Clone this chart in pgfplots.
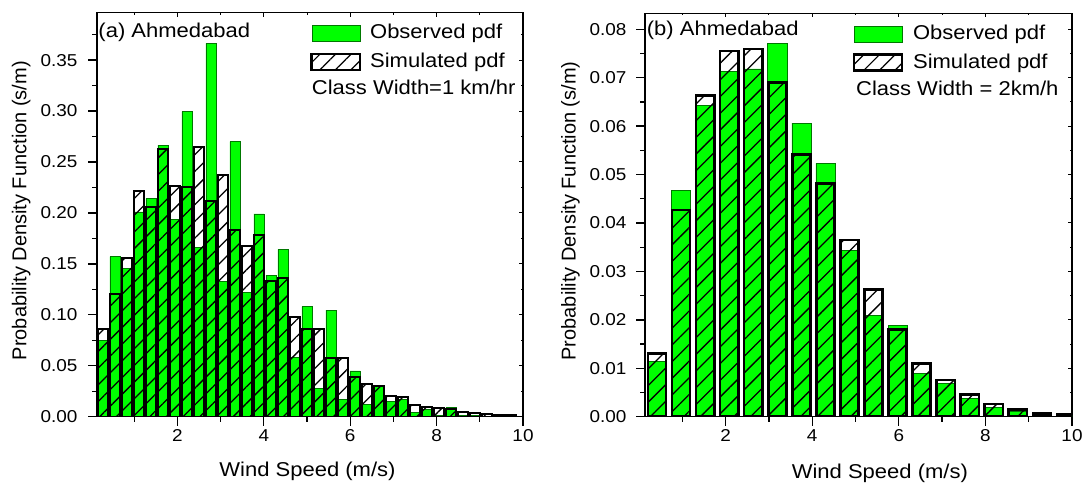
\documentclass[border=0pt]{standalone}
\usepackage{fontspec}
\setmainfont{Liberation Sans}[FakeStretch=1.1]
\newfontfamily\plainfont{Liberation Sans}
\usepackage{pgfplots}
\usepackage{pgfplotstable}
\pgfplotsset{compat=1.18}
\usetikzlibrary{patterns.meta}
\definecolor{obsgreen}{RGB}{0,255,0}
\definecolor{obsedge}{RGB}{0,120,0}
\newcommand\labelfont{\fontsize{20}{24}\selectfont}
\newcommand\tickfont{\fontsize{17.2}{20}\selectfont}

\pgfplotstableread{
x obs sim
0.2778 0.0750 0.0858
0.5556 0.1570 0.1200
0.8333 0.1456 0.1560
1.1111 0.2010 0.2220
1.3889 0.2143 0.2060
1.6667 0.2666 0.2627
1.9444 0.1937 0.2264
2.2222 0.2993 0.2251
2.5000 0.1660 0.2650
2.7778 0.3664 0.2117
3.0556 0.1325 0.2372
3.3333 0.2699 0.1832
3.6111 0.1217 0.1675
3.8889 0.1990 0.1780
4.1667 0.1390 0.1335
4.4444 0.1643 0.1364
4.7222 0.0580 0.0975
5.0000 0.1080 0.0858
5.2778 0.0280 0.0857
5.5556 0.1047 0.0580
5.8333 0.0170 0.0580
6.1111 0.0450 0.0386
6.3889 0.0120 0.0317
6.6667 0.0307 0.0300
6.9444 0.0147 0.0203
7.2222 0.0173 0.0196
7.5000 0.0040 0.0111
7.7778 0.0075 0.0092
8.0556 0.0016 0.0082
8.3333 0.0088 0.0075
8.6111 0.0010 0.0049
8.8889 0.0010 0.0033
9.1667 0.0005 0.0026
9.4444 0.0003 0.0020
9.7222 0.0002 0.0013
}\tableA

\pgfplotstableread{
x obs sim
0.4167 0.0115 0.0131
0.9722 0.0468 0.0427
1.5278 0.0642 0.0663
2.0833 0.0713 0.0755
2.6389 0.0718 0.0759
3.1944 0.0771 0.0690
3.7500 0.0606 0.0542
4.3056 0.0523 0.0481
4.8611 0.0343 0.0365
5.4167 0.0210 0.0263
5.9722 0.0188 0.0180
6.5278 0.0090 0.0110
7.0833 0.0069 0.0076
7.6389 0.0038 0.0046
8.1944 0.0019 0.0026
8.7500 0.0012 0.0015
9.3056 0.0003 0.0007
9.8611 0.0002 0.0004
}\tableB

\pgfplotsset{
  panel/.style={
    scale only axis, anchor=south west,
    xmin=0.139, xmax=10, ymin=0,
    axis line style={line width=1.3pt},
    tick style={line width=1.3pt, black},
    major tick length=9pt, minor tick length=5pt,
    tick align=outside, tick pos=left,
    xtick={2,4,6,8,10}, minor xtick={1,3,5,7,9},
    scaled y ticks=false,
    /pgf/number format/assume math mode=true,
    tick label style={font=\tickfont},
    yticklabel style={/tikz/xshift=-7pt, /pgf/number format/.cd, fixed, fixed zerofill, precision=2},
    xlabel={Wind Speed (m/s)},
    ylabel={Probability Density Function (s/m)},
    xlabel style={font=\labelfont, anchor=base, inner sep=0pt},
    ylabel style={font=\plainfont\labelfont, anchor=north, inner sep=0pt},
    legend style={draw=none, fill=none, anchor=north west, inner sep=0pt, outer sep=0pt,
      font=\labelfont, row sep=0pt,
      nodes={inner sep=4.75pt, text height=15pt, text depth=4pt},
      /tikz/every odd column/.append style={column sep=5pt}},
    legend cell align=left,
  },
  mirror/.style={
    scale only axis, anchor=south west,
    xmin=0.139, xmax=10, ymin=0,
    axis line style={draw=none},
    tick style={line width=1pt, black},
    major tick length=4pt, minor tick length=2pt,
    tick align=inside, xtick pos=right, ytick pos=right,
    scaled ticks=false,
    xtick={2,4,6,8,10}, minor xtick={1,3,5,7,9},
    xticklabel=\relax, yticklabel=\relax,
  },
  obsbar/.style={ybar, bar shift=0pt, bar width=#1, fill=obsgreen, draw=obsedge, line width=0.6pt,
    legend image code/.code={\draw[fill=obsgreen, draw=obsedge, line width=0.6pt] (0pt,-8pt) rectangle (48pt,8pt);}},
  simbar/.style 2 args={ybar, bar shift=0pt, bar width=#1, draw=black, line width=#2,
    pattern={Lines[angle=45,distance=11.8pt,line width=1.3pt]}, pattern color=black,
    legend image code/.code={\draw[draw=black, line width=2.6pt, pattern={Lines[angle=45,distance=11pt,line width=1.2pt]}, pattern color=black] (0pt,-8pt) rectangle (48pt,8pt);}},
}

\begin{document}
\begin{tikzpicture}
\useasboundingbox (0,0) rectangle (1083pt,483pt);

% ---------- panel (a) ----------
\begin{axis}[panel, at={(97pt,66.3pt)}, width=426pt, height=404pt, ymax=0.3965,
  ytick={0,0.05,0.10,0.15,0.20,0.25,0.30,0.35},
  minor ytick={0.025,0.075,0.125,0.175,0.225,0.275,0.325,0.375},
  xlabel style={at={(axis description cs:0.494,-0.147)}},
  ylabel style={at={(axis description cs:-0.2002,0.51)}},
  legend style={at={(axis description cs:0.5028,0.984)}},
]
\addplot[obsbar=0.235] table[x=x, y=obs] {\tableA};
\addlegendentry{Observed pdf}
\addplot[simbar={0.235}{2pt}] table[x=x, y=sim] {\tableA};
\addlegendentry{Simulated pdf}
\node[anchor=base west, inner sep=0pt, font=\labelfont] at (rel axis cs:0.003,0.939) {(a) Ahmedabad};
\node[anchor=base west, inner sep=0pt, font=\labelfont] at (rel axis cs:0.504,0.797) {Class Width=1 km/hr};
\end{axis}
\begin{axis}[mirror, at={(97pt,66.3pt)}, width=426pt, height=404pt, ymax=0.3965,
  ytick={0,0.05,0.10,0.15,0.20,0.25,0.30,0.35},
  minor ytick={0.025,0.075,0.125,0.175,0.225,0.275,0.325,0.375}]
\end{axis}

% ---------- panel (b) ----------
\begin{axis}[panel, at={(645pt,66.3pt)}, width=427pt, height=403.4pt, ymax=0.0833,
  ytick={0,0.01,0.02,0.03,0.04,0.05,0.06,0.07,0.08},
  minor ytick={0.005,0.015,0.025,0.035,0.045,0.055,0.065,0.075},
  yticklabel style={/tikz/xshift=1pt},
  xlabel style={at={(axis description cs:0.55,-0.153)}},
  ylabel style={at={(axis description cs:-0.197,0.51)}},
  legend style={at={(axis description cs:0.4865,0.984)}},
]
\addplot[obsbar=0.44] table[x=x, y=obs] {\tableB};
\addlegendentry{Observed pdf}
\addplot[simbar={0.42}{2.6pt}] table[x=x, y=sim] {\tableB};
\addlegendentry{Simulated pdf}
\node[anchor=base west, inner sep=0pt, font=\labelfont] at (rel axis cs:0.004,0.946) {(b) Ahmedabad};
\node[anchor=base west, inner sep=0pt, font=\labelfont] at (rel axis cs:0.494,0.797) {Class Width = 2km/h};
\end{axis}
\begin{axis}[mirror, at={(645pt,66.3pt)}, width=427pt, height=403.4pt, ymax=0.0833,
  ytick={0,0.01,0.02,0.03,0.04,0.05,0.06,0.07,0.08},
  minor ytick={0.005,0.015,0.025,0.035,0.045,0.055,0.065,0.075}]
\end{axis}
\end{tikzpicture}
\end{document}
